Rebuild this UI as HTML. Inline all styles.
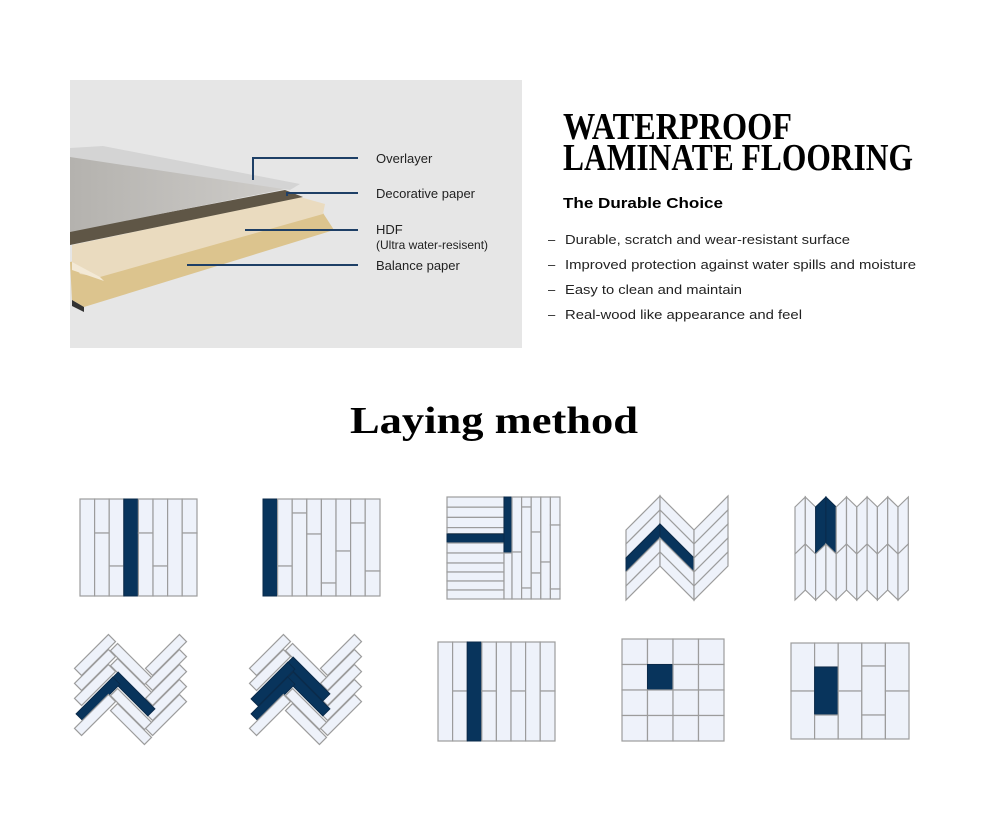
<!DOCTYPE html>
<html><head><meta charset="utf-8"><style>
html,body{margin:0;padding:0;background:#fff;}
svg{display:block;}
.t{fill:#eef2fa;stroke:#9c9c9c;stroke-width:1.2;}
.n{fill:#08345c;stroke:#0a2a4a;stroke-width:1;}
.lbl{font-family:"Liberation Sans",sans-serif;font-size:13px;fill:#222;}
.bul{font-family:"Liberation Sans",sans-serif;font-size:13px;fill:#222;}
</style></head><body>
<svg width="990" height="827" viewBox="0 0 990 827" xmlns="http://www.w3.org/2000/svg">
<defs>
<linearGradient id="wood" x1="0" y1="0" x2="1" y2="0"><stop offset="0" stop-color="#b4b2ae"/><stop offset="1" stop-color="#cfcdca"/></linearGradient>
</defs>
<rect x="70" y="80" width="452" height="268" fill="#e6e6e6"/>
<polygon points="70,262 323,213 334,230 84,307 72,300" fill="#dcc48e"/>
<polygon points="72,300 84,307 84,312 72,306" fill="#333"/>
<polygon points="72,245 300,197 325,204 323,214 100,277 80,274 72,262" fill="#eadbbf"/>
<polygon points="72,262 100,277 104,281 72,270" fill="#f3e9d6"/>
<polygon points="70,231 285,190 303,197 70,245" fill="#5f5646"/>
<polygon points="70,156 290,188 70,232" fill="url(#wood)"/>
<polygon points="70,148 103,146 300,184 290,190 70,157" fill="#d4d4d4"/>
<g stroke="#1e3f66" stroke-width="2" fill="none">
<polyline points="253,180 253,158 358,158"/>
<polyline points="287,196 287,193 358,193"/>
<line x1="245" y1="230" x2="358" y2="230"/>
<line x1="187" y1="265" x2="358" y2="265"/>
</g>
<text class="lbl" x="376" y="163">Overlayer</text>
<text class="lbl" x="376" y="198">Decorative paper</text>
<text class="lbl" x="376" y="234">HDF</text>
<text class="lbl" x="376" y="249" style="font-size:12px">(Ultra water-resisent)</text>
<text class="lbl" x="376" y="270">Balance paper</text>
<text x="563" y="139" font-family="Liberation Serif,serif" font-weight="bold" font-size="38" textLength="229" lengthAdjust="spacingAndGlyphs">WATERPROOF</text>
<text x="563" y="170" font-family="Liberation Serif,serif" font-weight="bold" font-size="38" textLength="350" lengthAdjust="spacingAndGlyphs">LAMINATE FLOORING</text>
<text x="563" y="208" font-family="Liberation Sans,sans-serif" font-weight="bold" font-size="15" textLength="160" lengthAdjust="spacingAndGlyphs">The Durable Choice</text>
<g class="bul">
<text x="548" y="244">–</text><text x="565" y="244" textLength="285" lengthAdjust="spacingAndGlyphs">Durable, scratch and wear-resistant surface</text>
<text x="548" y="269">–</text><text x="565" y="269" textLength="351" lengthAdjust="spacingAndGlyphs">Improved protection against water spills and moisture</text>
<text x="548" y="294">–</text><text x="565" y="294" textLength="177" lengthAdjust="spacingAndGlyphs">Easy to clean and maintain</text>
<text x="548" y="319">–</text><text x="565" y="319" textLength="237" lengthAdjust="spacingAndGlyphs">Real-wood like appearance and feel</text>
</g>
<text x="350" y="433" font-family="Liberation Serif,serif" font-weight="bold" font-size="38" textLength="288" lengthAdjust="spacingAndGlyphs">Laying method</text>

<g>
<rect class="t" x="80" y="499" width="14.6" height="97"/>
<rect class="t" x="94.6" y="499" width="14.6" height="34"/><rect class="t" x="94.6" y="533" width="14.6" height="63"/>
<rect class="t" x="109.2" y="499" width="14.6" height="67"/><rect class="t" x="109.2" y="566" width="14.6" height="30"/>
<rect class="n" x="123.8" y="499" width="14.6" height="97"/>
<rect class="t" x="138.4" y="499" width="14.6" height="34"/><rect class="t" x="138.4" y="533" width="14.6" height="63"/>
<rect class="t" x="153" y="499" width="14.6" height="67"/><rect class="t" x="153" y="566" width="14.6" height="30"/>
<rect class="t" x="167.6" y="499" width="14.6" height="97"/>
<rect class="t" x="182.2" y="499" width="14.8" height="34"/><rect class="t" x="182.2" y="533" width="14.8" height="63"/>
</g>
<g>
<rect class="n" x="263" y="499" width="14.6" height="97"/>
<rect class="t" x="277.6" y="499" width="14.6" height="67"/><rect class="t" x="277.6" y="566" width="14.6" height="30"/>
<rect class="t" x="292.2" y="499" width="14.6" height="14"/><rect class="t" x="292.2" y="513" width="14.6" height="83"/>
<rect class="t" x="306.8" y="499" width="14.6" height="35"/><rect class="t" x="306.8" y="534" width="14.6" height="62"/>
<rect class="t" x="321.4" y="499" width="14.6" height="84"/><rect class="t" x="321.4" y="583" width="14.6" height="13"/>
<rect class="t" x="336" y="499" width="14.6" height="52"/><rect class="t" x="336" y="551" width="14.6" height="45"/>
<rect class="t" x="350.6" y="499" width="14.6" height="24"/><rect class="t" x="350.6" y="523" width="14.6" height="73"/>
<rect class="t" x="365.2" y="499" width="14.8" height="72"/><rect class="t" x="365.2" y="571" width="14.8" height="25"/>
</g>
<g>
<rect class="t" x="447" y="497" width="57" height="10.2"/>
<rect class="t" x="447" y="507.2" width="57" height="10.2"/>
<rect class="t" x="447" y="517.4" width="57" height="10.2"/>
<rect class="t" x="447" y="527.6" width="57" height="6"/>
<rect class="n" x="447" y="534" width="57" height="9"/>
<rect class="t" x="447" y="543" width="57" height="10"/>
<rect class="t" x="447" y="553" width="57" height="10"/>
<rect class="t" x="447" y="563" width="57" height="9"/>
<rect class="t" x="447" y="572" width="57" height="9"/>
<rect class="t" x="447" y="581" width="57" height="9"/>
<rect class="t" x="447" y="590" width="57" height="9"/>
<rect class="n" x="504" y="497" width="8" height="56"/>
<rect class="t" x="504" y="553" width="8" height="46"/>
<rect class="t" x="512" y="497" width="9.6" height="55"/><rect class="t" x="512" y="552" width="9.6" height="47"/>
<rect class="t" x="521.6" y="497" width="9.6" height="10"/><rect class="t" x="521.6" y="507" width="9.6" height="81"/><rect class="t" x="521.6" y="588" width="9.6" height="11"/>
<rect class="t" x="531.2" y="497" width="9.6" height="35"/><rect class="t" x="531.2" y="532" width="9.6" height="41"/><rect class="t" x="531.2" y="573" width="9.6" height="26"/>
<rect class="t" x="540.8" y="497" width="9.6" height="65"/><rect class="t" x="540.8" y="562" width="9.6" height="37"/>
<rect class="t" x="550.4" y="497" width="9.6" height="28"/><rect class="t" x="550.4" y="525" width="9.6" height="64"/><rect class="t" x="550.4" y="589" width="9.6" height="10"/>
</g>
<g>
<polygon class="t" points="626,530 660,496 660,510 626,544"/>
<polygon class="t" points="626,544 660,510 660,524 626,558"/>
<polygon class="n" points="626,558 660,524 660,538 626,572"/>
<polygon class="t" points="626,572 660,538 660,552 626,586"/>
<polygon class="t" points="626,586 660,552 660,566 626,600"/>
<polygon class="t" points="660,496 694,530 694,544 660,510"/>
<polygon class="t" points="660,510 694,544 694,558 660,524"/>
<polygon class="n" points="660,524 694,558 694,572 660,538"/>
<polygon class="t" points="660,538 694,572 694,586 660,552"/>
<polygon class="t" points="660,552 694,586 694,600 660,566"/>
<polygon class="t" points="694,530 728,496 728,510 694,544"/>
<polygon class="t" points="694,544 728,510 728,524 694,558"/>
<polygon class="t" points="694,558 728,524 728,538 694,572"/>
<polygon class="t" points="694,572 728,538 728,552 694,586"/>
<polygon class="t" points="694,586 728,552 728,566 694,600"/>
</g>
<g>
<polygon class="t" points="795,507 805.3,497 805.3,544 795,554"/><polygon class="t" points="795,554 805.3,544 805.3,590 795,600"/>
<polygon class="t" points="805.3,497 815.6,507 815.6,554 805.3,544"/><polygon class="t" points="805.3,544 815.6,554 815.6,600 805.3,590"/>
<polygon class="n" points="815.6,507 825.9,497 825.9,544 815.6,554"/><polygon class="t" points="815.6,554 825.9,544 825.9,590 815.6,600"/>
<polygon class="n" points="825.9,497 836.2,507 836.2,554 825.9,544"/><polygon class="t" points="825.9,544 836.2,554 836.2,600 825.9,590"/>
<polygon class="t" points="836.2,507 846.5,497 846.5,544 836.2,554"/><polygon class="t" points="836.2,554 846.5,544 846.5,590 836.2,600"/>
<polygon class="t" points="846.5,497 856.8,507 856.8,554 846.5,544"/><polygon class="t" points="846.5,544 856.8,554 856.8,600 846.5,590"/>
<polygon class="t" points="856.8,507 867.1,497 867.1,544 856.8,554"/><polygon class="t" points="856.8,554 867.1,544 867.1,590 856.8,600"/>
<polygon class="t" points="867.1,497 877.4,507 877.4,554 867.1,544"/><polygon class="t" points="867.1,544 877.4,554 877.4,600 867.1,590"/>
<polygon class="t" points="877.4,507 887.7,497 887.7,544 877.4,554"/><polygon class="t" points="877.4,554 887.7,544 887.7,590 877.4,600"/>
<polygon class="t" points="887.7,497 898,507 898,554 887.7,544"/><polygon class="t" points="887.7,544 898,554 898,600 887.7,590"/>
<polygon class="t" points="898,507 908.3,497 908.3,544 898,554"/><polygon class="t" points="898,554 908.3,544 908.3,590 898,600"/>
</g>
<g>
<g transform="translate(166,655) rotate(-45)"><rect class="t" x="-24" y="-5" width="48" height="10"/></g>
<g transform="translate(166,670) rotate(-45)"><rect class="t" x="-24" y="-5" width="48" height="10"/></g>
<g transform="translate(166,685) rotate(-45)"><rect class="t" x="-24" y="-5" width="48" height="10"/></g>
<g transform="translate(166,700) rotate(-45)"><rect class="t" x="-24" y="-5" width="48" height="10"/></g>
<g transform="translate(166,715) rotate(-45)"><rect class="t" x="-24" y="-5" width="48" height="10"/></g>
<g transform="translate(131,664) rotate(45)"><rect class="t" x="-24" y="-5" width="48" height="10"/></g>
<g transform="translate(131,679) rotate(45)"><rect class="t" x="-24" y="-5" width="48" height="10"/></g>
<g transform="translate(133,694) rotate(45)"><rect class="n" x="-26" y="-5" width="52" height="10"/></g>
<g transform="translate(131,709) rotate(45)"><rect class="t" x="-24" y="-5" width="48" height="10"/></g>
<g transform="translate(131,724) rotate(45)"><rect class="t" x="-24" y="-5" width="48" height="10"/></g>
<g transform="translate(95,655) rotate(-45)"><rect class="t" x="-24" y="-5" width="48" height="10"/></g>
<g transform="translate(95,670) rotate(-45)"><rect class="t" x="-24" y="-5" width="48" height="10"/></g>
<g transform="translate(95,685) rotate(-45)"><rect class="t" x="-24" y="-5" width="48" height="10"/></g>
<g transform="translate(98,699) rotate(-45)"><rect class="n" x="-26" y="-5" width="52" height="10"/></g>
<g transform="translate(95,715) rotate(-45)"><rect class="t" x="-24" y="-5" width="48" height="10"/></g>
</g>
<g transform="translate(175,0)">
<g transform="translate(166,655) rotate(-45)"><rect class="t" x="-24" y="-5" width="48" height="10"/></g>
<g transform="translate(166,670) rotate(-45)"><rect class="t" x="-24" y="-5" width="48" height="10"/></g>
<g transform="translate(166,685) rotate(-45)"><rect class="t" x="-24" y="-5" width="48" height="10"/></g>
<g transform="translate(166,700) rotate(-45)"><rect class="t" x="-24" y="-5" width="48" height="10"/></g>
<g transform="translate(166,715) rotate(-45)"><rect class="t" x="-24" y="-5" width="48" height="10"/></g>
<g transform="translate(131,664) rotate(45)"><rect class="t" x="-24" y="-5" width="48" height="10"/></g>
<g transform="translate(133,679) rotate(45)"><rect class="n" x="-26" y="-5" width="52" height="10"/></g>
<g transform="translate(133,694) rotate(45)"><rect class="n" x="-26" y="-5" width="52" height="10"/></g>
<g transform="translate(131,709) rotate(45)"><rect class="t" x="-24" y="-5" width="48" height="10"/></g>
<g transform="translate(131,724) rotate(45)"><rect class="t" x="-24" y="-5" width="48" height="10"/></g>
<g transform="translate(95,655) rotate(-45)"><rect class="t" x="-24" y="-5" width="48" height="10"/></g>
<g transform="translate(95,670) rotate(-45)"><rect class="t" x="-24" y="-5" width="48" height="10"/></g>
<g transform="translate(98,684) rotate(-45)"><rect class="n" x="-26" y="-5" width="52" height="10"/></g>
<g transform="translate(98,699) rotate(-45)"><rect class="n" x="-26" y="-5" width="52" height="10"/></g>
<g transform="translate(95,715) rotate(-45)"><rect class="t" x="-24" y="-5" width="48" height="10"/></g>
</g>
<g>
<rect class="t" x="438" y="642" width="14.6" height="99"/>
<rect class="t" x="452.6" y="642" width="14.6" height="49"/><rect class="t" x="452.6" y="691" width="14.6" height="50"/>
<rect class="n" x="467.2" y="642" width="14.6" height="99"/>
<rect class="t" x="481.8" y="642" width="14.6" height="49"/><rect class="t" x="481.8" y="691" width="14.6" height="50"/>
<rect class="t" x="496.4" y="642" width="14.6" height="99"/>
<rect class="t" x="511" y="642" width="14.6" height="49"/><rect class="t" x="511" y="691" width="14.6" height="50"/>
<rect class="t" x="525.6" y="642" width="14.6" height="99"/>
<rect class="t" x="540.2" y="642" width="14.8" height="49"/><rect class="t" x="540.2" y="691" width="14.8" height="50"/>
</g>
<g>
<rect class="t" x="622" y="639" width="25.5" height="25.5"/><rect class="t" x="647.5" y="639" width="25.5" height="25.5"/><rect class="t" x="673" y="639" width="25.5" height="25.5"/><rect class="t" x="698.5" y="639" width="25.5" height="25.5"/>
<rect class="t" x="622" y="664.5" width="25.5" height="25.5"/><rect class="n" x="647.5" y="664.5" width="25.5" height="25.5"/><rect class="t" x="673" y="664.5" width="25.5" height="25.5"/><rect class="t" x="698.5" y="664.5" width="25.5" height="25.5"/>
<rect class="t" x="622" y="690" width="25.5" height="25.5"/><rect class="t" x="647.5" y="690" width="25.5" height="25.5"/><rect class="t" x="673" y="690" width="25.5" height="25.5"/><rect class="t" x="698.5" y="690" width="25.5" height="25.5"/>
<rect class="t" x="622" y="715.5" width="25.5" height="25.5"/><rect class="t" x="647.5" y="715.5" width="25.5" height="25.5"/><rect class="t" x="673" y="715.5" width="25.5" height="25.5"/><rect class="t" x="698.5" y="715.5" width="25.5" height="25.5"/>
</g>
<g>
<rect class="t" x="791" y="643" width="23.6" height="48"/><rect class="t" x="791" y="691" width="23.6" height="48"/>
<rect class="t" x="814.6" y="643" width="23.6" height="24"/><rect class="n" x="814.6" y="667" width="23.6" height="48"/><rect class="t" x="814.6" y="715" width="23.6" height="24"/>
<rect class="t" x="838.2" y="643" width="23.6" height="48"/><rect class="t" x="838.2" y="691" width="23.6" height="48"/>
<rect class="t" x="861.8" y="643" width="23.6" height="23"/><rect class="t" x="861.8" y="666" width="23.6" height="49"/><rect class="t" x="861.8" y="715" width="23.6" height="24"/>
<rect class="t" x="885.4" y="643" width="23.6" height="48"/><rect class="t" x="885.4" y="691" width="23.6" height="48"/>
</g>
</svg>
</body></html>
